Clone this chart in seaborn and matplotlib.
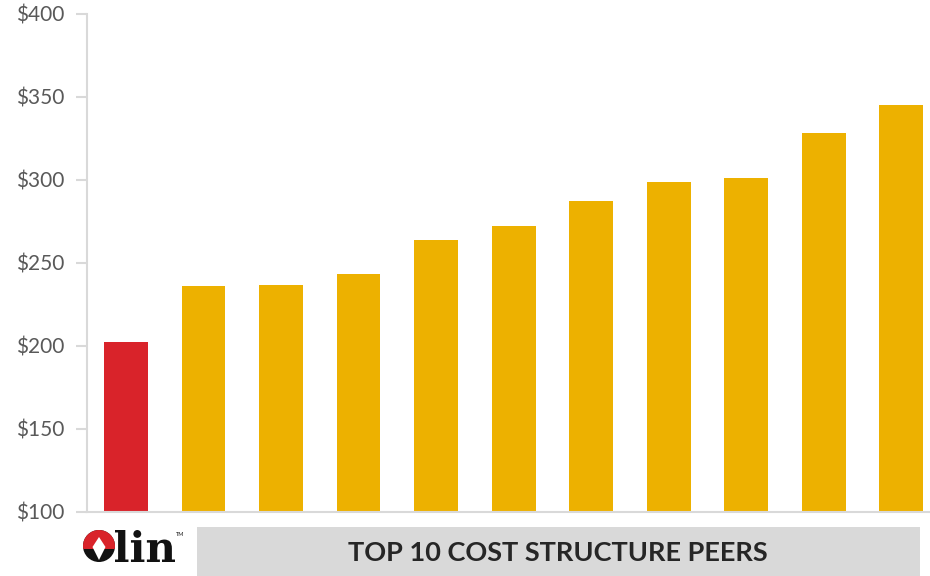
import matplotlib
matplotlib.use("Agg")
import matplotlib.pyplot as plt
from matplotlib.patches import Rectangle, Circle, Polygon, PathPatch
from matplotlib.textpath import TextPath
from matplotlib.font_manager import FontProperties
from matplotlib.transforms import Affine2D
import seaborn as sns

# Cost per ton: Olin first, then the ten peers in ascending order
companies = ["Olin", "Peer 1", "Peer 2", "Peer 3", "Peer 4", "Peer 5",
             "Peer 6", "Peer 7", "Peer 8", "Peer 9", "Peer 10"]
costs = [202, 236, 236.5, 243.5, 264, 272, 287, 298.5, 301, 328, 345]
bar_colors = ["#D9232A"] + ["#EDB100"] * 10
y_ticks = [100, 150, 200, 250, 300, 350, 400]
y_labels = ["$100", "$150", "$200", "$250", "$300", "$350", "$400"]
caption = "TOP 10 COST STRUCTURE PEERS"

sns.set_theme(style="white")
plt.rcParams["font.family"] = ["Lato", "DejaVu Sans"]

W, H = 930, 576
fig = plt.figure(figsize=(W / 100, H / 100), dpi=100)

# main bar axes (pixel-derived placement)
ax_left, ax_right, ax_top, ax_bottom = 87.2, 940.0, 14.0, 511.5
ax = fig.add_axes([ax_left / W, 1 - ax_bottom / H,
                   (ax_right - ax_left) / W, (ax_bottom - ax_top) / H])
sns.barplot(x=companies, y=costs, hue=companies, palette=bar_colors,
            legend=False, width=0.565, linewidth=0, saturation=1, ax=ax)
ax.set_xlim(-0.5, 10.5)
ax.set_ylim(100, 400)
ax.set_yticks(y_ticks)
ax.set_yticklabels(y_labels)
ax.set_xticks([])
ax.set_xlabel("")
ax.set_ylabel("")
for s in ["top", "right"]:
    ax.spines[s].set_visible(False)
for s in ["left", "bottom"]:
    ax.spines[s].set_color("#D9D9D9")
    ax.spines[s].set_linewidth(1.5)
ax.tick_params(axis="y", which="major", left=True, length=8, width=1.5,
               color="#D9D9D9", labelsize=15, labelcolor="#595959", pad=8.5)

# overlay in pixel coordinates for the logo and the caption band
ov = fig.add_axes([0, 0, 1, 1], facecolor="none")
ov.set_xlim(0, W)
ov.set_ylim(H, 0)
ov.axis("off")

# caption band
ov.add_patch(Rectangle((197, 527), 723, 50, facecolor="#D9D9D9",
                       edgecolor="none"))
ov.text(558, 553, caption, ha="center", va="center", fontsize=19.5,
        fontweight="bold", color="#262626")

# logo mark: red upper cap, black lower part, white kite in the middle
cx, cy, r = 99, 546, 16
black = Circle((cx, cy), r, facecolor="#111111", edgecolor="none")
ov.add_patch(black)
red = Circle((cx, cy), r, facecolor="#D9232A", edgecolor="none")
ov.add_patch(red)
cap = Rectangle((cx - r - 1, cy - r - 1), 2 * r + 2, r + 4,
                transform=ov.transData)
red.set_clip_path(cap)
ov.add_patch(Polygon([(cx, cy - 9), (cx + 6.5, cy + 1), (cx, cy + 14),
                      (cx - 6.5, cy + 1)], closed=True, facecolor="white",
                     edgecolor="none"))

# logo word, scaled into its box
tp = TextPath((0, 0), "lin", prop=FontProperties(family="DejaVu Serif",
                                                 weight="bold"))
ext = tp.get_extents()
x0, x1, y_top, y_base = 115, 175, 530, 562
sx = (x1 - x0) / ext.width
sy = (y_base - y_top) / ext.height
tr = Affine2D().translate(-ext.x0, -ext.y0).scale(sx, -sy).translate(x0, y_base)
ov.add_patch(PathPatch(tr.transform_path(tp), facecolor="#111111",
                       edgecolor="none"))
ov.text(176, 534, "TM", fontsize=4, color="#111111", ha="left", va="center")

fig.savefig("out.png", dpi=100)
